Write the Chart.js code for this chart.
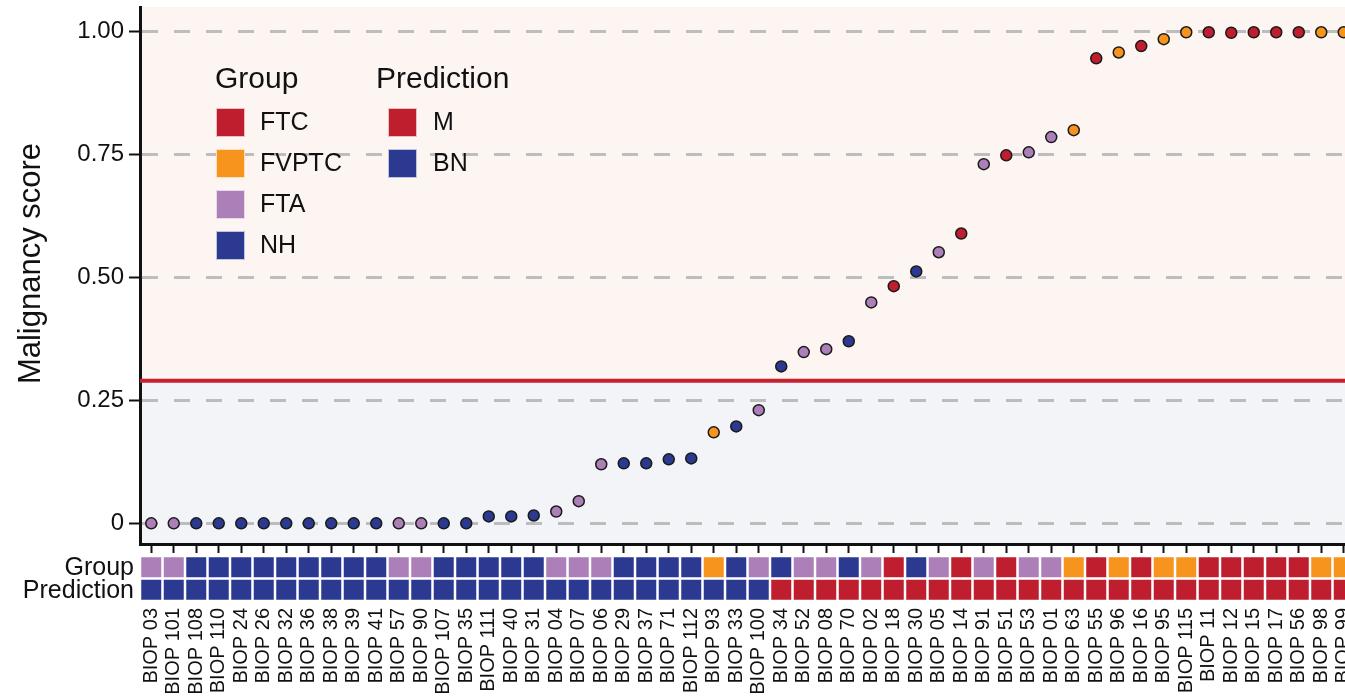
<!DOCTYPE html>
<html><head><meta charset="utf-8">
<script src="https://cdn.jsdelivr.net/npm/chart.js@4.4.0/dist/chart.umd.min.js"></script>
<style>html,body{margin:0;padding:0;overflow:hidden;background:#fff;width:1345px;height:697px}#wrap{width:1360px;height:697px;position:relative}canvas{display:block}</style>
</head><body><div id="wrap"><canvas id="c" width="1355" height="697" style="width:1355px;height:697px"></canvas></div>
<script>
const categories = ['BIOP 03','BIOP 101','BIOP 108','BIOP 110','BIOP 24','BIOP 26','BIOP 32','BIOP 36','BIOP 38','BIOP 39','BIOP 41','BIOP 57','BIOP 90','BIOP 107','BIOP 35','BIOP 111','BIOP 40','BIOP 31','BIOP 04','BIOP 07','BIOP 06','BIOP 29','BIOP 37','BIOP 71','BIOP 112','BIOP 93','BIOP 33','BIOP 100','BIOP 34','BIOP 52','BIOP 08','BIOP 70','BIOP 02','BIOP 18','BIOP 30','BIOP 05','BIOP 14','BIOP 91','BIOP 51','BIOP 53','BIOP 01','BIOP 63','BIOP 55','BIOP 96','BIOP 16','BIOP 95','BIOP 115','BIOP 11','BIOP 12','BIOP 15','BIOP 17','BIOP 56','BIOP 98','BIOP 99'];
const scores = [0,0,0,0,0,0,0,0,0,0,0,0,0,0,0,0.014,0.014,0.016,0.024,0.045,0.12,0.122,0.122,0.13,0.132,0.185,0.197,0.23,0.319,0.348,0.354,0.37,0.449,0.482,0.512,0.551,0.589,0.73,0.748,0.754,0.785,0.799,0.945,0.957,0.97,0.984,0.998,0.998,0.997,0.998,0.998,0.998,0.998,0.998];
const groups = ['FTA','FTA','NH','NH','NH','NH','NH','NH','NH','NH','NH','FTA','FTA','NH','NH','NH','NH','NH','FTA','FTA','FTA','NH','NH','NH','NH','FVPTC','NH','FTA','NH','FTA','FTA','NH','FTA','FTC','NH','FTA','FTC','FTA','FTC','FTA','FTA','FVPTC','FTC','FVPTC','FTC','FVPTC','FVPTC','FTC','FTC','FTC','FTC','FTC','FVPTC','FVPTC'];
const predictions = ['BN','BN','BN','BN','BN','BN','BN','BN','BN','BN','BN','BN','BN','BN','BN','BN','BN','BN','BN','BN','BN','BN','BN','BN','BN','BN','BN','BN','M','M','M','M','M','M','M','M','M','M','M','M','M','M','M','M','M','M','M','M','M','M','M','M','M','M'];
const threshold = 0.29;
const yTickValues = [0, 0.25, 0.5, 0.75, 1];
const yTickLabels = ['0', '0.25', '0.50', '0.75', '1.00'];
const groupNames = ['FTC', 'FVPTC', 'FTA', 'NH'];
const groupColors = ['#be1e2d', '#f7941d', '#ad7fb8', '#2b3990'];
const predictionNames = ['M', 'BN'];
const predictionColors = ['#be1e2d', '#2b3990'];
const yTitle = 'Malignancy score';
const legendTitles = ['Group', 'Prediction'];
const rowLabels = ['Group', 'Prediction'];

const FONT = "'Liberation Sans', Arial, Helvetica, sans-serif";
const gColor = g => groupColors[groupNames.indexOf(g)];
const pColor = p => predictionColors[predictionNames.indexOf(p)];

const decor = {
  id: 'decor',
  beforeDraw(chart) {
    const {ctx, chartArea: {left, right, top, bottom}, scales: {y}} = chart;
    const ty = y.getPixelForValue(threshold);
    ctx.save();
    ctx.fillStyle = '#fdf5f2';
    ctx.fillRect(left, top, right - left, ty - top);
    ctx.fillStyle = '#f3f4f8';
    ctx.fillRect(left, ty, right - left, bottom - ty);
    ctx.restore();
  },
  beforeDatasetsDraw(chart) {
    const {ctx, chartArea: {left, right}, scales: {y}} = chart;
    const ty = y.getPixelForValue(threshold);
    ctx.save();
    ctx.strokeStyle = '#c8202f';
    ctx.lineWidth = 4;
    ctx.beginPath();
    ctx.moveTo(left, ty);
    ctx.lineTo(right, ty);
    ctx.stroke();
    ctx.restore();
  },
  afterDraw(chart) {
    const {ctx, chartArea: {left, bottom}, scales: {x}} = chart;
    ctx.save();
    const band = x.getPixelForValue(1) - x.getPixelForValue(0);
    const sq = 20;
    const rowTop = bottom + 12;
    const rows = [groups.map(gColor), predictions.map(pColor)];
    rows.forEach((cols, r) => {
      const cy = rowTop + band / 2 + r * band;
      cols.forEach((c, i) => {
        const cx = x.getPixelForValue(i);
        ctx.fillStyle = c;
        ctx.fillRect(cx - sq / 2, cy - sq / 2, sq, sq);
      });
      ctx.fillStyle = '#111';
      ctx.font = '25px ' + FONT;
      ctx.textAlign = 'right';
      ctx.textBaseline = 'alphabetic';
      ctx.fillText(rowLabels[r], left - 6, cy + 8);
    });
    const cols = [
      {x: 216, tx: 260, names: groupNames, colors: groupColors, title: legendTitles[0], titleX: 215},
      {x: 388, tx: 433, names: predictionNames, colors: predictionColors, title: legendTitles[1], titleX: 376}
    ];
    cols.forEach(col => {
      ctx.fillStyle = '#111';
      ctx.textAlign = 'left';
      ctx.textBaseline = 'alphabetic';
      ctx.font = '30px ' + FONT;
      ctx.fillText(col.title, col.titleX, 88);
      col.names.forEach((n, i) => {
        const cy = 122.5 + i * 41;
        ctx.fillStyle = col.colors[i];
        ctx.fillRect(col.x, cy - 14.5, 29, 29);
        ctx.strokeStyle = 'rgba(255,255,255,0.7)';
        ctx.lineWidth = 1;
        ctx.strokeRect(col.x + 0.5, cy - 14, 28, 28);
        ctx.fillStyle = '#111';
        ctx.font = '25px ' + FONT;
        ctx.fillText(n, col.tx, cy + 7);
      });
    });
    ctx.translate(40, 263.5);
    ctx.rotate(-Math.PI / 2);
    ctx.fillStyle = '#111';
    ctx.font = '31px ' + FONT;
    ctx.textAlign = 'center';
    ctx.textBaseline = 'alphabetic';
    ctx.fillText(yTitle, 0, 0);
    ctx.restore();
  }
};

const zeroPad = s => { s.paddingLeft = 0; s.paddingRight = 0; s.paddingTop = 0; s.paddingBottom = 0; };

new Chart(document.getElementById('c'), {
  type: 'line',
  data: {
    labels: categories,
    datasets: [{
      data: scores,
      showLine: false,
      clip: false,
      pointRadius: 5.5,
      pointHoverRadius: 5.5,
      pointBorderWidth: 1.5,
      pointBorderColor: '#1a1a1a',
      pointBackgroundColor: groups.map(gColor)
    }]
  },
  options: {
    responsive: false,
    animation: false,
    events: [],
    layout: {autoPadding: false, padding: {top: 7, right: 0, bottom: 0, left: 0}},
    plugins: {legend: {display: false}, tooltip: {enabled: false}},
    scales: {
      x: {
        type: 'category',
        offset: true,
        afterFit: s => { s.height = 697 - 7 - 537; zeroPad(s); },
        grid: {display: true, drawOnChartArea: false, drawTicks: true, offset: false, tickLength: 9, tickColor: '#111', tickWidth: 2},
        border: {display: true, color: '#111', width: 3},
        ticks: {autoSkip: false, minRotation: 90, maxRotation: 90, padding: 55, color: '#111', font: {family: FONT, size: 20}}
      },
      y: {
        min: -0.042,
        max: 1.0494,
        afterFit: s => { s.width = 140; zeroPad(s); },
        afterBuildTicks: s => { s.ticks = yTickValues.map(v => ({value: v})); },
        grid: {color: '#bdbdbd', lineWidth: 3, tickColor: '#111', tickWidth: 2, tickLength: 11, tickBorderDash: []},
        border: {display: true, color: '#111', width: 3, dash: [16, 16]},
        ticks: {padding: 5, color: '#111', font: {family: FONT, size: 24},
          callback: v => yTickLabels[yTickValues.indexOf(v)]}
      }
    }
  },
  plugins: [decor]
});
</script>
</body></html>
